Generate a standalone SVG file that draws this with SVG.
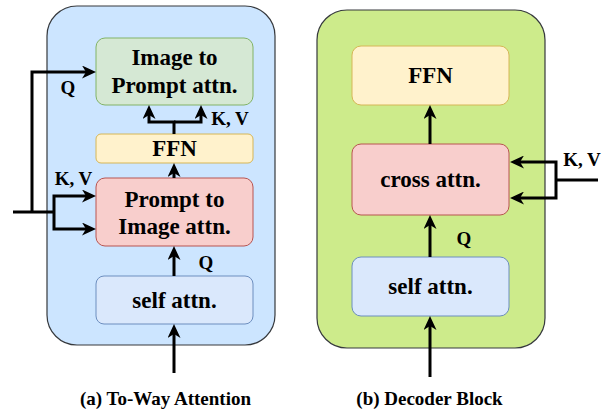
<svg xmlns="http://www.w3.org/2000/svg" width="613" height="411" viewBox="0 0 613 411" font-family="'Liberation Serif', 'Times New Roman', Times, serif">
  <defs>
    <marker id="arrow" markerUnits="userSpaceOnUse" viewBox="0 0 14 13" markerWidth="14" markerHeight="13" refX="4" refY="6.5" orient="auto">
      <path d="M0,0 L14,6.5 L0,13 L4,6.5 z" fill="#000"/>
    </marker>
  </defs>
  <style>
    .panel { stroke: #36393d; stroke-width: 1.2; }
    .box { stroke-width: 1; }
    .green { fill: #d5e8d4; stroke: #82b366; }
    .yellow { fill: #fff2cc; stroke: #d6b656; }
    .red { fill: #f8cecc; stroke: #b85450; }
    .blue { fill: #dae8fc; stroke: #6c8ebf; }
    text { font-weight: bold; fill: #000; }
    .node-text { font-size: 23px; text-anchor: middle; }
    .label { font-size: 19px; text-anchor: middle; }
    .caption { font-size: 19px; text-anchor: middle; }
    .wire { fill: none; stroke: #000; stroke-width: 3; stroke-linejoin: miter; }
    .arrow { marker-end: url(#arrow); }
  </style>

  <!-- (a) two-way attention block -->
  <g id="panel-two-way">
    <rect class="panel" x="47" y="6" width="228" height="339" rx="30" fill="#cce5ff"/>
  </g>
  <g id="image-to-prompt">
    <rect class="box green" x="96" y="38" width="157" height="67" rx="9"/>
    <text class="node-text" x="174.5" y="65">Image to</text>
    <text class="node-text" x="174.5" y="92.5">Prompt attn.</text>
  </g>
  <g id="ffn-a">
    <rect class="box yellow" x="96" y="134" width="157" height="29" rx="5"/>
    <text class="node-text" x="174.5" y="156">FFN</text>
  </g>
  <g id="prompt-to-image">
    <rect class="box red" x="96" y="178" width="157" height="68" rx="9"/>
    <text class="node-text" x="174.5" y="206.5">Prompt to</text>
    <text class="node-text" x="174.5" y="233.5">Image attn.</text>
  </g>
  <g id="self-attn-a">
    <rect class="box blue" x="96" y="276" width="157" height="48" rx="8"/>
    <text class="node-text" x="174.5" y="307.5">self attn.</text>
  </g>

  <!-- (b) decoder block -->
  <g id="panel-decoder">
    <rect class="panel" x="317" y="10" width="228" height="338" rx="30" fill="#cdeb8b"/>
  </g>
  <g id="ffn-b">
    <rect class="box yellow" x="352" y="46" width="157" height="59" rx="9"/>
    <text class="node-text" x="430.5" y="83">FFN</text>
  </g>
  <g id="cross-attn">
    <rect class="box red" x="352" y="144" width="157" height="71" rx="9"/>
    <text class="node-text" x="430.5" y="187">cross attn.</text>
  </g>
  <g id="self-attn-b">
    <rect class="box blue" x="352" y="257" width="157" height="59" rx="9"/>
    <text class="node-text" x="430.5" y="293.5">self attn.</text>
  </g>

  <!-- connectors -->
  <g id="connectors">
    <!-- panel (a) -->
    <path class="wire arrow" d="M174,373 V334"/>
    <path class="wire arrow" d="M174,276 V256"/>
    <path class="wire arrow" d="M174,178 V173"/>
    <path class="wire arrow" d="M174,134 V122 H149 V115"/>
    <path class="wire arrow" d="M174,122 H201 V115"/>
    <path class="wire" d="M13,212 H54"/>
    <path class="wire arrow" d="M32,212 V72 H86"/>
    <path class="wire arrow" d="M54,212 V196 H86"/>
    <path class="wire arrow" d="M54,212 V229 H86"/>
    <!-- panel (b) -->
    <path class="wire arrow" d="M430,377 V326"/>
    <path class="wire arrow" d="M430,257 V225"/>
    <path class="wire arrow" d="M430,144 V115"/>
    <path class="wire" d="M598,180 H556"/>
    <path class="wire arrow" d="M556,180 V162 H520"/>
    <path class="wire arrow" d="M556,180 V198 H520"/>
  </g>

  <!-- edge labels -->
  <g id="labels">
    <text class="label" x="68" y="94">Q</text>
    <text class="label" x="73.5" y="185">K, V</text>
    <text class="label" x="230" y="125">K, V</text>
    <text class="label" x="206" y="268.5">Q</text>
    <text class="label" x="582" y="166">K, V</text>
    <text class="label" x="464" y="245">Q</text>
  </g>

  <!-- captions -->
  <g id="captions">
    <text class="caption" x="165.5" y="405">(a) To-Way Attention</text>
    <text class="caption" x="429.5" y="405">(b) Decoder Block</text>
  </g>
</svg>
